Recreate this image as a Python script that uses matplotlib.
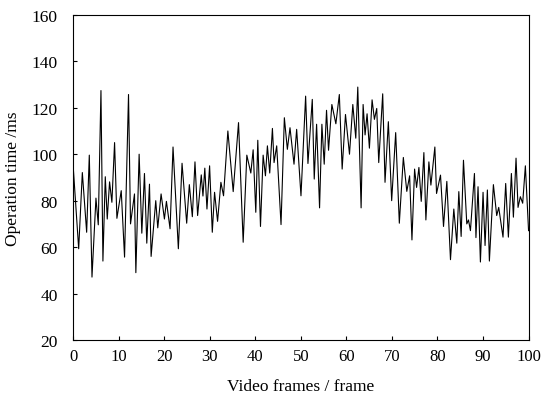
import matplotlib

matplotlib.use("Agg")
import matplotlib.pyplot as plt

# turning points of the trace (frame, ms)
frames = [
    0.00, 1.24, 2.04, 2.99, 3.57, 4.16, 5.03, 5.54, 6.13, 6.56,
    7.08, 7.51, 8.02, 8.53, 9.12, 9.63, 10.58, 11.31, 12.18, 12.62,
    13.49, 13.79, 14.51, 15.10, 15.68, 16.19, 16.78, 17.14, 18.16, 18.60,
    19.33, 20.06, 20.50, 21.30, 21.95, 23.12, 23.93, 24.95, 25.53, 26.19,
    26.77, 27.35, 28.15, 28.52, 28.93, 29.40, 29.98, 30.57, 31.07, 31.73,
    32.46, 33.04, 33.99, 35.16, 36.33, 37.35, 38.15, 39.03, 39.54, 40.12,
    40.56, 41.15, 41.73, 42.24, 42.67, 43.18, 43.77, 44.13, 44.71, 45.66,
    46.39, 47.05, 47.63, 48.51, 49.09, 50.04, 51.06, 51.57, 52.52, 52.95,
    53.47, 54.12, 54.63, 55.14, 55.65, 56.09, 56.82, 57.70, 58.46, 59.08,
    59.81, 60.69, 61.42, 62.07, 62.51, 63.24, 63.68, 64.11, 64.55, 65.06,
    65.65, 66.16, 66.67, 67.11, 67.98, 68.49, 69.22, 69.95, 70.83, 71.63,
    72.51, 73.27, 73.89, 74.40, 74.98, 75.42, 75.93, 76.44, 77.02, 77.46,
    78.12, 78.56, 79.43, 79.80, 80.67, 81.33, 82.06, 82.86, 83.59, 84.25,
    84.69, 85.20, 85.71, 86.44, 86.81, 87.24, 88.12, 88.45, 88.91, 89.43,
    90.01, 90.45, 90.96, 91.40, 92.28, 93.01, 93.45, 94.39, 94.98, 95.57,
    96.23, 96.67, 97.25, 97.69, 98.20, 98.71, 99.30, 100.00,
]
op_time_ms = [
    95.7, 59.3, 92.1, 66.4, 99.6, 47.1, 81.1, 69.6, 127.4, 54.0,
    90.3, 72.1, 88.1, 79.3, 105.0, 72.4, 84.3, 55.7, 125.7, 70.0,
    82.9, 49.0, 100.0, 66.0, 91.7, 61.7, 87.1, 56.0, 80.0, 68.3,
    82.9, 72.1, 79.7, 67.9, 103.1, 59.3, 96.1, 70.3, 86.9, 73.1,
    96.7, 73.6, 91.1, 82.0, 94.0, 76.4, 95.0, 66.4, 83.6, 71.1,
    87.9, 82.1, 110.0, 83.9, 113.6, 62.1, 99.6, 91.9, 101.9, 75.0,
    106.0, 68.9, 99.6, 90.7, 103.6, 91.9, 111.1, 96.4, 103.6, 69.7,
    115.7, 102.1, 111.4, 95.7, 110.7, 82.1, 125.0, 96.0, 123.6, 89.3,
    112.9, 76.9, 112.9, 95.7, 118.9, 101.7, 121.4, 113.1, 125.7, 93.6,
    117.1, 100.0, 121.4, 106.9, 128.9, 76.9, 121.4, 108.3, 117.4, 102.6,
    123.4, 115.0, 119.7, 96.4, 126.0, 87.9, 114.0, 80.0, 109.3, 70.3,
    98.6, 84.0, 90.7, 63.1, 93.6, 85.7, 94.3, 79.7, 100.7, 71.7,
    96.7, 86.7, 103.1, 83.1, 91.0, 68.9, 88.3, 54.6, 76.4, 61.7,
    83.9, 64.6, 97.4, 70.0, 71.7, 67.1, 91.7, 64.1, 86.0, 53.6,
    83.6, 60.7, 84.6, 54.0, 86.9, 73.6, 77.1, 64.3, 87.4, 64.3,
    91.7, 72.9, 98.3, 77.1, 81.7, 78.9, 95.0, 67.1,
]

x_ticks = list(range(0, 101, 10))
y_ticks = list(range(20, 161, 20))

plt.rcParams["font.family"] = ["Liberation Serif", "DejaVu Serif"]
plt.rcParams["font.size"] = 12.5

fig = plt.figure(figsize=(5.41, 4.06), dpi=100)
ax = fig.add_axes([0.135, 0.16, 0.842, 0.801])

ax.plot(frames, op_time_ms, color="black", linewidth=0.8)

ax.set_xlim(0, 100)
ax.set_ylim(20, 160)
ax.set_xticks(x_ticks)
ax.set_yticks(y_ticks)
ax.tick_params(direction="in", length=3, width=0.8, top=False, right=False)
ax.tick_params(axis="x", labelsize=12, pad=6)
ax.tick_params(axis="y", labelsize=12.5, pad=11)
for sp in ax.spines.values():
    sp.set_linewidth(0.8)

ax.set_xlabel("Video frames / frame", labelpad=10)
ax.set_ylabel("Operation time /ms", labelpad=8)

fig.savefig("out.png", dpi=100)
